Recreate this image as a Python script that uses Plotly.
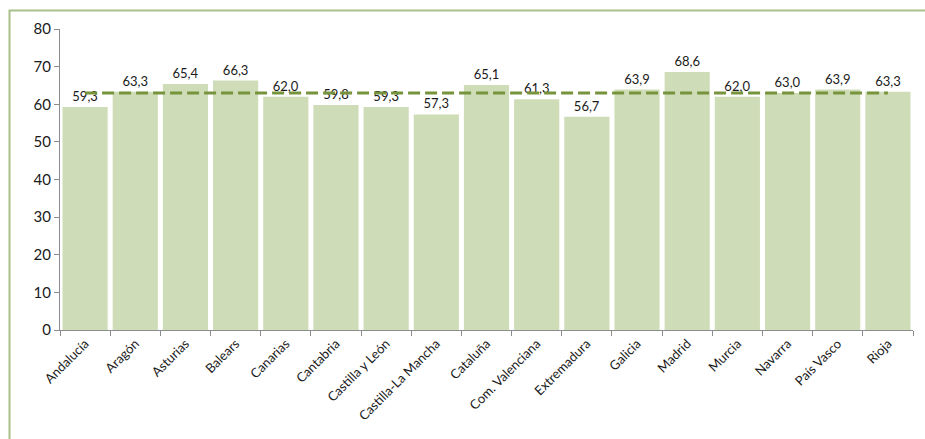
import plotly.graph_objects as go

categories = ["Andalucía", "Aragón", "Asturias", "Balears", "Canarias", "Cantabria",
              "Castilla y León", "Castilla-La Mancha", "Cataluña", "Com. Valenciana",
              "Extremadura", "Galicia", "Madrid", "Murcia", "Navarra", "País Vasco", "Rioja"]
values = [59.3, 63.3, 65.4, 66.3, 62.0, 59.8, 59.3, 57.3, 65.1, 61.3, 56.7, 63.9, 68.6, 62.0, 63.0, 63.9, 63.3]
average = [63.0] * len(categories)
y_ticks = [0, 10, 20, 30, 40, 50, 60, 70, 80]

font_family = "Lato, 'Open Sans', sans-serif"

fig = go.Figure()
fig.add_trace(go.Bar(
    x=categories, y=values,
    marker=dict(color="#cfdcb8", line=dict(width=0)),
    text=values, texttemplate="%{y:.1f}", textposition="outside",
    textfont=dict(size=13, color="#1a1a1a", family=font_family),
    cliponaxis=False, showlegend=False,
))
fig.add_trace(go.Scatter(
    x=categories, y=average, mode="lines",
    line=dict(color="#77933c", width=3, dash="12px,5px"),
    showlegend=False, hoverinfo="skip",
))

fig.update_layout(
    width=925, height=439,
    margin=dict(l=60, r=12, t=29, b=109),
    paper_bgcolor="white", plot_bgcolor="white",
    separators=",.",
    bargap=0.1,
    font=dict(family=font_family, color="#1a1a1a"),
    shapes=[dict(type="rect", xref="paper", yref="paper",
                 x0=-0.0592, x1=1.2, y0=-0.6, y1=1.0615,
                 line=dict(color="#a9c08a", width=2), layer="below")],
)
fig.update_xaxes(
    showline=True, linecolor="#8c8c8c", linewidth=1,
    ticks="outside", tickson="boundaries", ticklen=5, tickcolor="#8c8c8c",
    tickangle=-45, tickfont=dict(size=13, color="#1a1a1a"),
    showgrid=False,
)
fig.update_yaxes(
    range=[0, 80], tickvals=y_ticks,
    showline=True, linecolor="#8c8c8c", linewidth=1,
    ticks="outside", ticklen=5, tickcolor="#8c8c8c",
    tickfont=dict(size=15, color="#1a1a1a"),
    showgrid=False, zeroline=False,
)

fig.write_html("out.html")
